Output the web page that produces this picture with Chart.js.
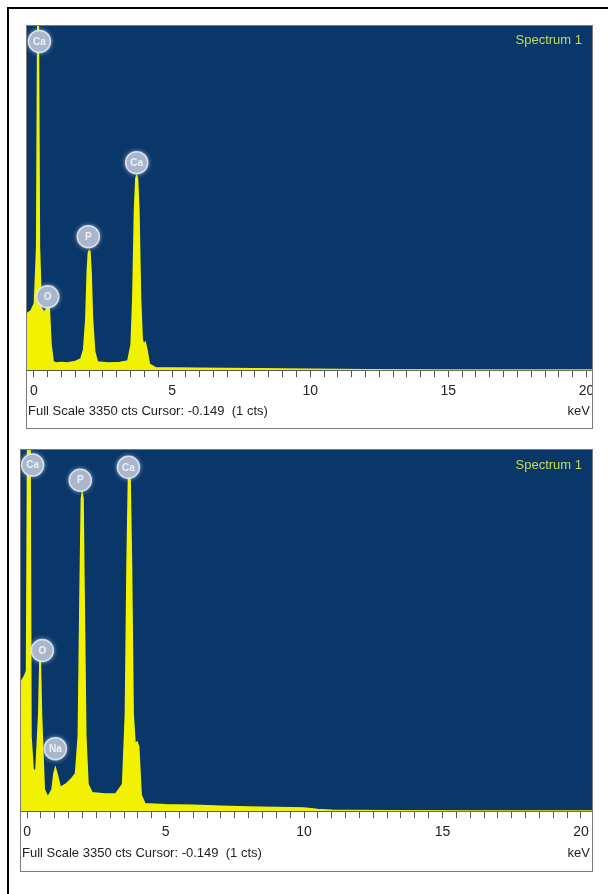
<!DOCTYPE html>
<html lang="en">
<head>
    <meta charset="UTF-8">
    <title>EDS Spectra</title>
    <style>
        body {
            margin: 0;
            width: 608px;
            height: 894px;
            background: #ffffff;
            position: relative;
            overflow: hidden;
            font-family: Arial, "Liberation Sans", sans-serif;
        }
        /* black frame, runs off the right and bottom of the picture */
        #frame {
            position: absolute;
            left: 7px;
            top: 7px;
            width: 700px;
            height: 1000px;
            border: 2px solid #000;
        }
        .box {
            position: absolute;
            border: 1px solid #7a7a7a;
        }
        .clip {
            position: absolute;
            overflow: hidden;
        }
        .clip canvas {
            position: absolute;
            left: -20px;
            top: 0;
        }
        .title {
            position: absolute;
            font-size: 13px;
            color: #c4dc52;
            text-align: right;
        }
        .scale {
            position: absolute;
            font-size: 13px;
            color: #222;
            white-space: pre;
        }
    </style>
    <script src="https://cdn.jsdelivr.net/npm/chart.js"></script>
</head>
<body>
    <div id="frame"></div>

    <!-- top spectrum -->
    <div class="box" style="left:26px; top:25px; width:565px; height:402px;"></div>
    <div class="clip" style="left:27px; top:26px; width:565px; height:401px;">
        <canvas id="topChart" width="605" height="380"></canvas>
    </div>
    <div class="title" style="left:470px; top:32px; width:112px;">Spectrum 1</div>
    <div class="scale" style="left:28px; top:403px;">Full Scale 3350 cts Cursor: -0.149  (1 cts)</div>
    <div class="scale" style="left:560px; top:403px; width:30px; text-align:right;">keV</div>

    <!-- bottom spectrum -->
    <div class="box" style="left:20px; top:449px; width:571px; height:421px;"></div>
    <div class="clip" style="left:21px; top:450px; width:571px; height:420px;">
        <canvas id="bottomChart" width="611" height="397"></canvas>
    </div>
    <div class="title" style="left:470px; top:457px; width:112px;">Spectrum 1</div>
    <div class="scale" style="left:22px; top:845px;">Full Scale 3350 cts Cursor: -0.149  (1 cts)</div>
    <div class="scale" style="left:560px; top:845px; width:30px; text-align:right;">keV</div>

    <script>
        // energies (keV) and counts
        const topEnergy = [-0.25, -0.1, 0.02, 0.1, 0.15, 0.2, 0.27, 0.38, 0.46, 0.51, 0.56, 0.62, 0.7, 0.8, 1.0, 1.2, 1.5, 1.7, 1.8, 1.88, 1.93, 1.97, 2.0, 2.03, 2.07, 2.12, 2.2, 2.3, 2.7, 3.1, 3.4, 3.52, 3.58, 3.64, 3.69, 3.72, 3.75, 3.8, 3.86, 3.92, 3.98, 4.03, 4.09, 4.18, 4.4, 6, 8, 10, 12, 15, 20.2];
        const topCounts = [550, 580, 650, 1200, 4000, 1200, 600, 560, 600, 700, 580, 250, 80, 70, 75, 70, 85, 110, 200, 500, 950, 1140, 1160, 1140, 950, 500, 180, 80, 70, 75, 90, 250, 700, 1550, 1870, 1890, 1870, 1550, 700, 300, 250, 270, 200, 60, 25, 20, 15, 10, 5, 3, 2];

        const bottomEnergy = [-0.22, -0.1, -0.02, 0.03, 0.1, 0.14, 0.22, 0.32, 0.42, 0.47, 0.52, 0.62, 0.75, 0.9, 0.97, 1.02, 1.08, 1.2, 1.4, 1.6, 1.75, 1.85, 1.91, 1.96, 1.99, 2.02, 2.06, 2.12, 2.2, 2.35, 2.8, 3.2, 3.45, 3.55, 3.61, 3.66, 3.69, 3.72, 3.77, 3.83, 3.9, 3.97, 4.03, 4.12, 4.25, 5, 6, 7, 8, 9, 10, 10.5, 11, 13, 16, 20.4];
        const bottomCounts = [1200, 1250, 1300, 4000, 4000, 700, 380, 380, 900, 1500, 900, 200, 130, 200, 350, 400, 350, 220, 250, 300, 350, 700, 2000, 2900, 2950, 2900, 2000, 700, 250, 170, 160, 160, 250, 900, 2300, 3080, 3120, 3080, 2300, 900, 620, 640, 600, 150, 70, 60, 55, 45, 40, 35, 30, 15, 8, 5, 3, 2];

        // element markers: name, energy, count height of the marker centre
        const topLabels = ['Ca', 'O', 'P', 'Ca'];
        const topLabelEnergy = [0.2, 0.5, 1.97, 3.72];
        const topLabelCounts = [3200, 715, 1300, 2020];

        const bottomLabels = ['Ca', 'O', 'Na', 'P', 'Ca'];
        const bottomLabelEnergy = [0.2, 0.55, 1.02, 1.92, 3.66];
        const bottomLabelCounts = [3210, 1490, 580, 3070, 3190];

        const fullScale = 3350;

        const plotBlue = '#0a3769';
        const specYellow = '#f2f200';

        // paint the plot area blue
        const bluePlot = {
            id: 'bluePlot',
            beforeDraw(chart) {
                const { ctx, chartArea } = chart;
                ctx.save();
                ctx.fillStyle = plotBlue;
                ctx.fillRect(chartArea.left, chartArea.top, chartArea.right - chartArea.left, chartArea.bottom - chartArea.top);
                ctx.restore();
            }
        };

        // round element markers drawn at scale positions
        const elementMarks = {
            id: 'elementMarks',
            afterDatasetsDraw(chart, args, opts) {
                const { ctx, scales } = chart;
                ctx.save();
                opts.names.forEach((name, i) => {
                    const x = scales.x.getPixelForValue(opts.energy[i]);
                    const y = scales.y.getPixelForValue(opts.counts[i]);
                    ctx.shadowColor = 'rgba(220,228,240,0.9)';
                    ctx.shadowBlur = 5;
                    ctx.fillStyle = '#a9b6cc';
                    ctx.beginPath();
                    ctx.arc(x, y, 11, 0, Math.PI * 2);
                    ctx.fill();
                    ctx.shadowBlur = 0;
                    ctx.strokeStyle = 'rgba(225,232,244,0.9)';
                    ctx.lineWidth = 1.5;
                    ctx.stroke();
                    ctx.fillStyle = '#eef1f6';
                    ctx.font = 'bold 10px Arial';
                    ctx.textAlign = 'center';
                    ctx.textBaseline = 'middle';
                    ctx.fillText(name, x, y + 0.5);
                });
                ctx.restore();
            }
        };

        function makeSpectrum(canvasId, energy, counts, xMin, xMax, names, labelEnergy, labelCounts) {
            const points = energy.map((e, i) => ({ x: e, y: counts[i] }));
            const ctx = document.getElementById(canvasId).getContext('2d');
            return new Chart(ctx, {
                type: 'line',
                data: {
                    datasets: [{
                        data: points,
                        borderColor: specYellow,
                        backgroundColor: specYellow,
                        borderWidth: 1.5,
                        fill: 'origin',
                        pointRadius: 0,
                        tension: 0
                    }]
                },
                options: {
                    responsive: false,
                    animation: false,
                    layout: { padding: { left: 20, right: 20, top: 0, bottom: 0 } },
                    scales: {
                        x: {
                            type: 'linear',
                            min: xMin,
                            max: xMax,
                            border: { display: true, color: '#555' },
                            grid: {
                                drawOnChartArea: false,
                                drawTicks: true,
                                tickLength: 7,
                                color: '#555'
                            },
                            ticks: {
                                stepSize: 0.5,
                                includeBounds: false,
                                autoSkip: false,
                                maxRotation: 0,
                                padding: 6,
                                color: '#222',
                                font: { family: 'Arial', size: 14 },
                                callback: v => (Math.abs(v % 5) < 1e-6 ? String(Math.round(v)) : '')
                            }
                        },
                        y: {
                            display: false,
                            min: 0,
                            max: fullScale
                        }
                    },
                    plugins: {
                        legend: { display: false },
                        tooltip: { enabled: false },
                        elementMarks: { names: names, energy: labelEnergy, counts: labelCounts }
                    }
                },
                plugins: [bluePlot, elementMarks]
            });
        }

        makeSpectrum('topChart', topEnergy, topCounts, -0.25, 20.2, topLabels, topLabelEnergy, topLabelCounts);
        makeSpectrum('bottomChart', bottomEnergy, bottomCounts, -0.22, 20.4, bottomLabels, bottomLabelEnergy, bottomLabelCounts);
    </script>
</body>
</html>
